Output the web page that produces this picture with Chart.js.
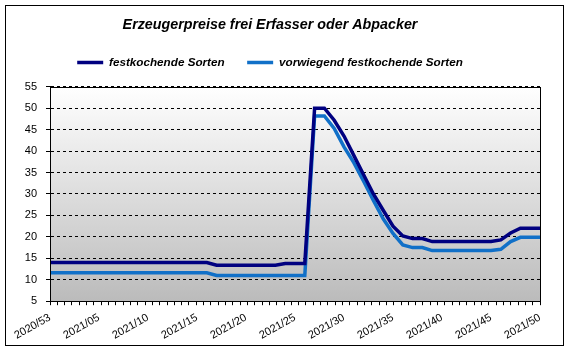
<!DOCTYPE html>
<html>
<head>
<meta charset="utf-8">
<script src="https://cdn.jsdelivr.net/npm/chart.js@4.4.0/dist/chart.umd.min.js"></script>
<style>
  body { margin: 0; background: #fff; }
  canvas { display: block; }
</style>
</head>
<body>
<canvas id="chart" width="570" height="352"></canvas>
<script>
// Kalenderwochen (x-Achse)
var weeks = [
  '2020/53', '2021/01', '2021/02', '2021/03', '2021/04', '2021/05', '2021/06', '2021/07', '2021/08', '2021/09',
  '2021/10', '2021/11', '2021/12', '2021/13', '2021/14', '2021/15', '2021/16', '2021/17', '2021/18', '2021/19',
  '2021/20', '2021/21', '2021/22', '2021/23', '2021/24', '2021/25', '2021/26', '2021/27', '2021/28', '2021/29',
  '2021/30', '2021/31', '2021/32', '2021/33', '2021/34', '2021/35', '2021/36', '2021/37', '2021/38', '2021/39',
  '2021/40', '2021/41', '2021/42', '2021/43', '2021/44', '2021/45', '2021/46', '2021/47', '2021/48', '2021/49',
  '2021/50'
];

// nur jede fuenfte Woche wird beschriftet
var shownWeeks = ['2020/53', '2021/05', '2021/10', '2021/15', '2021/20', '2021/25',
  '2021/30', '2021/35', '2021/40', '2021/45', '2021/50'];

// festkochende Sorten
var festkochend = [
  14.0, 14.0, 14.0, 14.0, 14.0, 14.0, 14.0, 14.0, 14.0, 14.0,
  14.0, 14.0, 14.0, 14.0, 14.0, 14.0, 14.0, 13.4, 13.4, 13.4,
  13.4, 13.4, 13.4, 13.4, 13.8, 13.8, 13.8, 50.0, 50.0, 47.2,
  43.5, 39.0, 34.5, 30.0, 26.2, 22.5, 20.2, 19.6, 19.6, 18.9,
  18.9, 18.9, 18.9, 18.9, 18.9, 18.9, 19.3, 20.9, 22.0, 22.0,
  22.0
];

// vorwiegend festkochende Sorten
var vorwiegend = [
  11.6, 11.6, 11.6, 11.6, 11.6, 11.6, 11.6, 11.6, 11.6, 11.6,
  11.6, 11.6, 11.6, 11.6, 11.6, 11.6, 11.6, 11.0, 11.0, 11.0,
  11.0, 11.0, 11.0, 11.0, 11.0, 11.0, 11.0, 48.2, 48.2, 45.3,
  41.0, 37.3, 33.0, 28.5, 24.2, 20.8, 18.1, 17.5, 17.5, 16.8,
  16.8, 16.8, 16.8, 16.8, 16.8, 16.8, 17.1, 18.9, 19.9, 19.9,
  19.9
];

var yTicks = { min: 5, max: 55, step: 5 };

Chart.defaults.font.family = 'Arial, "Liberation Sans", sans-serif';
Chart.defaults.color = '#000';

// grauer Verlauf hinter dem Diagramm + Rahmen
var plotFrame = {
  id: 'plotFrame',
  beforeDraw: function (chart) {
    var ctx = chart.ctx;
    var a = chart.chartArea;
    ctx.save();
    ctx.fillStyle = '#ffffff';
    ctx.fillRect(0, 0, chart.width, chart.height);
    var g = ctx.createLinearGradient(0, a.top, 0, a.bottom);
    g.addColorStop(0, '#ffffff');
    g.addColorStop(1, '#bbbbbb');
    ctx.fillStyle = g;
    ctx.fillRect(a.left, a.top, a.right - a.left, a.bottom - a.top);
    ctx.restore();
  },
  afterDraw: function (chart) {
    var ctx = chart.ctx;
    var a = chart.chartArea;
    ctx.save();
    ctx.strokeStyle = '#000';
    ctx.lineWidth = 1;
    ctx.setLineDash([]);
    ctx.strokeRect(Math.round(a.left) + 0.5, Math.round(a.top) + 0.5,
      Math.round(a.right - a.left), Math.round(a.bottom - a.top));
    ctx.strokeRect(5.5, 5.5, 558, 340);
    ctx.restore();
  }
};

var myChart = new Chart(document.getElementById('chart').getContext('2d'), {
  type: 'line',
  data: {
    labels: weeks,
    datasets: [{
      label: 'festkochende Sorten',
      data: festkochend,
      xAxisID: 'x',
      borderColor: '#000080',
      backgroundColor: '#000080',
      borderWidth: 3.5,
      pointRadius: 0,
      pointStyle: 'line',
      tension: 0
    }, {
      label: 'vorwiegend festkochende Sorten',
      data: vorwiegend,
      xAxisID: 'x',
      borderColor: '#1170c8',
      backgroundColor: '#1170c8',
      borderWidth: 3.5,
      pointRadius: 0,
      pointStyle: 'line',
      tension: 0
    }]
  },
  options: {
    responsive: false,
    animation: false,
    layout: { padding: { left: 0, right: 30, top: 0, bottom: 4 } },
    plugins: {
      title: {
        display: true,
        text: 'Erzeugerpreise frei Erfasser oder Abpacker',
        font: { size: 14.3, weight: 'bold', style: 'italic' },
        color: '#000',
        padding: { top: 16.9, bottom: 0 }
      },
      // nur Abstand zwischen Legende und Diagramm
      subtitle: {
        display: true,
        text: '',
        weight: 500,
        font: { size: 1 },
        padding: { top: 7.3, bottom: 0 }
      },
      legend: {
        display: true,
        labels: {
          usePointStyle: true,
          pointStyle: 'line',
          pointStyleWidth: 26,
          padding: 22.5,
          color: '#000',
          font: { size: 11.7, weight: 'bold', style: 'italic' }
        }
      },
      tooltip: { enabled: false }
    },
    scales: {
      xt: {
        type: 'linear',
        position: 'bottom',
        weight: 0,
        min: 0,
        max: 67,
        ticks: { display: false, stepSize: 1 },
        grid: { drawOnChartArea: false, drawTicks: true, tickLength: 4, tickColor: '#000', color: '#000' },
        border: { display: true, color: '#000', width: 1 }
      },
      x: {
        type: 'category',
        position: 'bottom',
        weight: 1,
        offset: false,
        grid: { display: false, drawTicks: false },
        border: { display: false },
        ticks: {
          autoSkip: false,
          minRotation: 29,
          maxRotation: 29,
          padding: 6,
          color: '#000',
          font: { size: 11 },
          callback: function (value, index) {
            var w = weeks[index];
            return shownWeeks.indexOf(w) >= 0 ? w : '';
          }
        }
      },
      y: {
        min: yTicks.min,
        max: yTicks.max,
        afterFit: function (scale) { scale.width = 50; },
        ticks: { stepSize: yTicks.step, padding: 9, color: '#000', font: { size: 11 } },
        grid: { color: '#000', lineWidth: 1, tickLength: 4, tickColor: '#000', tickBorderDash: [] },
        border: { display: true, color: '#000', width: 1, dash: [3, 3] }
      }
    }
  },
  plugins: [plotFrame]
});
</script>
</body>
</html>
